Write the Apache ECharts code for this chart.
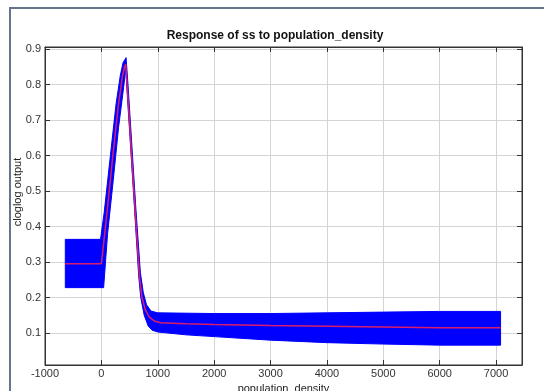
<!DOCTYPE html>
<html>
<head>
<meta charset="utf-8">
<script src="https://cdn.jsdelivr.net/npm/echarts@6/dist/echarts.min.js"></script>
<style>
  html, body { margin: 0; padding: 0; background: #fff; }
  #chart { width: 544px; height: 391px; }
</style>
</head>
<body>
<div id="chart"></div>
<script>
// tick positions
const xTicks = [-1000, 0, 1000, 2000, 3000, 4000, 5000, 6000, 7000]
const yTicks = [0.1, 0.2, 0.3, 0.4, 0.5, 0.6, 0.7, 0.8, 0.9]

// mean response (red line)
const meanX = [-640, 0, 100, 200, 300, 370, 410, 430, 460, 500, 600, 675, 720, 780, 850, 950, 1050, 1500, 2000, 3000, 4000, 5000, 6000, 7080]
const meanY = [0.295, 0.295, 0.44, 0.595, 0.74, 0.82, 0.85, 0.858, 0.79, 0.69, 0.44, 0.26, 0.2, 0.165, 0.145, 0.133, 0.129, 0.126, 0.124, 0.121, 0.119, 0.117, 0.115, 0.115]

// upper edge of the blue band
const upperX = [-640, -15, 50, 160, 260, 335, 385, 438, 472, 512, 612, 692, 742, 800, 880, 1000, 2000, 3000, 4000, 5000, 6000, 7080]
const upperY = [0.364, 0.364, 0.44, 0.6, 0.745, 0.825, 0.862, 0.876, 0.8, 0.7, 0.45, 0.27, 0.215, 0.18, 0.162, 0.157, 0.155, 0.155, 0.157, 0.159, 0.161, 0.161]

// lower edge of the blue band
const lowerX = [-640, 40, 110, 210, 305, 385, 422, 432, 452, 492, 592, 662, 698, 760, 830, 900, 1000, 1500, 2000, 3000, 4000, 5000, 6000, 7080]
const lowerY = [0.228, 0.228, 0.38, 0.53, 0.68, 0.78, 0.83, 0.845, 0.79, 0.69, 0.44, 0.26, 0.2, 0.15, 0.12, 0.108, 0.103, 0.095, 0.09, 0.08, 0.073, 0.069, 0.066, 0.066]

const chart = echarts.init(document.getElementById('chart'))

const upperPts = upperX.map((x, i) => [x, upperY[i]])
const lowerPts = lowerX.map((x, i) => [x, lowerY[i]])
const meanPts = meanX.map((x, i) => [x, meanY[i]])

const fontFamily = 'Liberation Sans, Arial, sans-serif'

const tickStyle = { inside: true, length: 5, lineStyle: { color: '#333' } }
const labelStyle = { color: '#333', fontSize: 11, fontFamily: fontFamily }

const option = {
  backgroundColor: '#fff',
  animation: false,
  title: {
    text: 'Response of ss to population_density',
    left: 270,
    top: 25,
    textAlign: 'center',
    textStyle: { fontSize: 12, fontWeight: 'bold', color: '#111', fontFamily: fontFamily }
  },
  graphic: [
    {
      type: 'rect',
      shape: { x: 10, y: 8, width: 600, height: 450 },
      style: { fill: 'none', stroke: '#66768a', lineWidth: 2 },
      silent: true
    },
    {
      type: 'text',
      x: 18,
      y: 192,
      rotation: Math.PI / 2,
      style: {
        text: 'cloglog output',
        fill: '#222',
        fontSize: 11,
        fontFamily: fontFamily,
        textAlign: 'center',
        textVerticalAlign: 'middle'
      }
    }
  ],
  grid: {
    left: 45,
    right: 22,
    top: 47,
    bottom: 26,
    outerBoundsMode: 'none',
    containLabel: false,
    show: true,
    borderColor: '#333',
    borderWidth: 1
  },
  xAxis: [
    {
      type: 'value',
      min: -1000,
      max: 7460,
      name: 'population_density',
      nameLocation: 'middle',
      nameGap: 18,
      nameTextStyle: { color: '#222', fontSize: 11, fontFamily: fontFamily },
      axisLine: { show: true, onZero: false, lineStyle: { color: '#333' } },
      axisTick: Object.assign({ customValues: xTicks }, tickStyle),
      axisLabel: Object.assign({ customValues: xTicks, margin: 3, formatter: v => String(v) }, labelStyle),
      splitLine: { show: true, lineStyle: { color: '#d4d4d4' } }
    },
    {
      type: 'value',
      position: 'top',
      min: -1000,
      max: 7460,
      axisLine: { show: true, onZero: false, lineStyle: { color: '#333' } },
      axisTick: Object.assign({ customValues: xTicks }, tickStyle),
      axisLabel: { show: false },
      splitLine: { show: false }
    }
  ],
  yAxis: [
    {
      type: 'value',
      min: 0.01,
      max: 0.906,
      axisLine: { show: true, onZero: false, lineStyle: { color: '#333' } },
      axisTick: Object.assign({ customValues: yTicks }, tickStyle),
      axisLabel: Object.assign({ customValues: yTicks, margin: 4 }, labelStyle),
      splitLine: { show: true, lineStyle: { color: '#d4d4d4' } }
    },
    {
      type: 'value',
      position: 'right',
      min: 0.01,
      max: 0.906,
      axisLine: { show: true, onZero: false, lineStyle: { color: '#333' } },
      axisTick: Object.assign({ customValues: yTicks }, tickStyle),
      axisLabel: { show: false },
      splitLine: { show: false }
    }
  ],
  series: [
    {
      name: 'band',
      type: 'custom',
      data: upperPts,
      encode: { x: 0, y: 1 },
      renderItem: function (params, api) {
        if (params.dataIndex !== 0) return
        const pts = upperPts.concat(lowerPts.slice().reverse()).map(p => api.coord(p))
        return {
          type: 'polygon',
          shape: { points: pts },
          style: { fill: '#0000ff', stroke: '#0000ff', lineWidth: 1 }
        }
      },
      silent: true,
      z: 2
    },
    {
      name: 'mean',
      type: 'line',
      data: meanPts,
      showSymbol: false,
      lineStyle: { color: '#d81e6a', width: 1.5 },
      z: 3
    }
  ]
}

chart.setOption(option)
</script>
</body>
</html>
